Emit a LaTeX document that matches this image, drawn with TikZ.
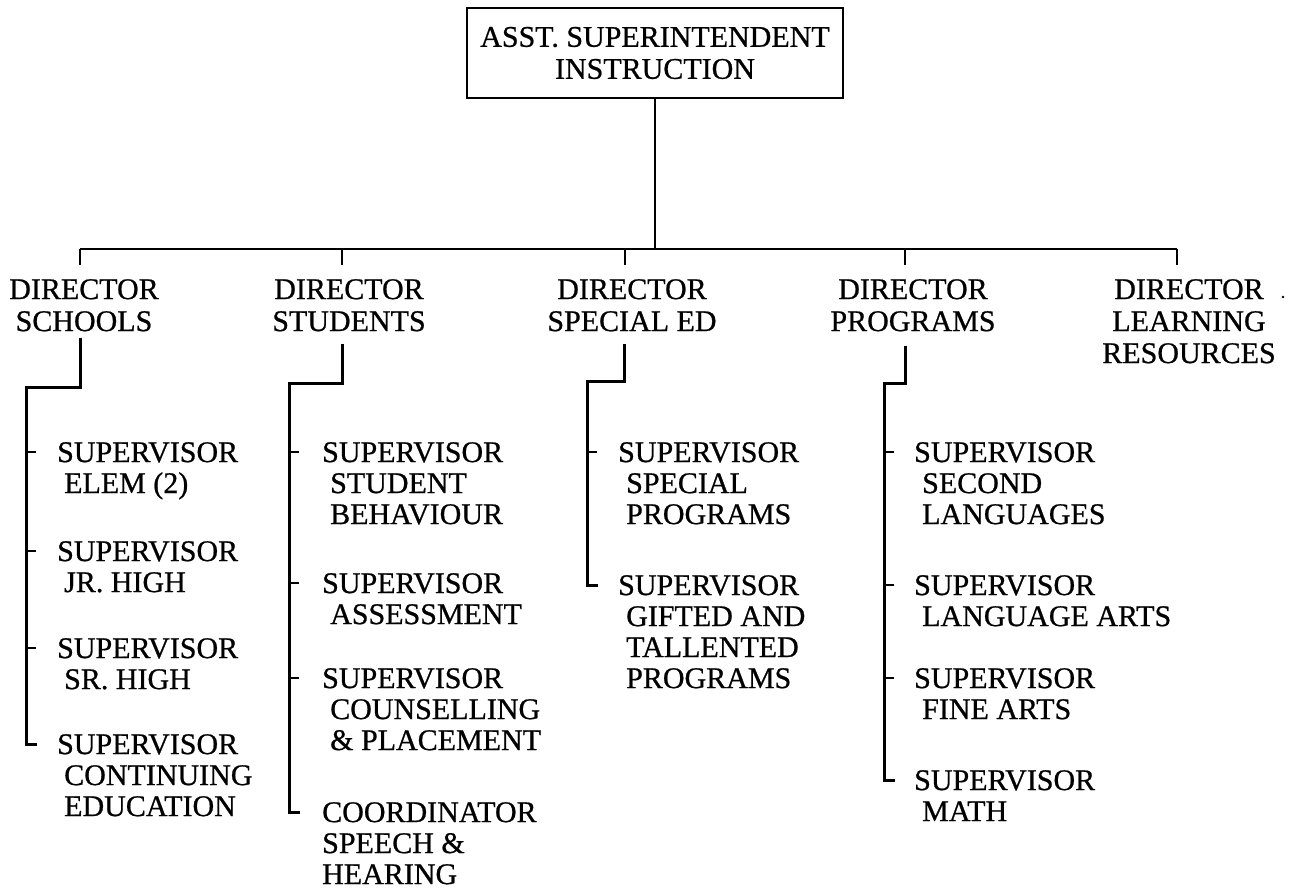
\documentclass[tikz,border=0pt]{standalone}
\usepackage{fontspec}
\setmainfont{Liberation Serif}
\newfontfamily\chartfont[FakeBold=0.7]{Liberation Serif}
\usetikzlibrary{calc}
\begin{document}
\begin{tikzpicture}[x=1pt,y=-1pt,
  lbl/.style={inner sep=0pt},
  dir/.style={lbl, align=center, anchor=north, font=\chartfont\fontsize{30}{32}\selectfont},
  sup/.style={lbl, align=left, anchor=north west, font=\chartfont\fontsize{30}{31}\selectfont},
  topbox/.style={draw, line width=2.6pt, minimum width=376pt, minimum height=90pt,
    align=center, font=\chartfont\fontsize{30}{32}\selectfont, inner sep=0pt},
  conn/.style={line width=1.9pt},
  bar/.style={line width=3pt, line join=miter},
  tick/.style={line width=2.6pt}]
\useasboundingbox (0,0) rectangle (1293,890);

% top box
\node[topbox] (top) at (655,53) {\raisebox{-3pt}{ASST. SUPERINTENDENT}\\\raisebox{-3pt}{INSTRUCTION}};

% directors
\node[dir] (dS)  at (84,279)   {DIRECTOR\\SCHOOLS};
\node[dir] (dSt) at (349,279)  {DIRECTOR\\STUDENTS};
\node[dir] (dSp) at (632,279)  {DIRECTOR\\SPECIAL ED};
\node[dir] (dP)  at (913,279)  {DIRECTOR\\PROGRAMS};
\node[dir] (dL)  at (1189,279) {DIRECTOR\\LEARNING\\RESOURCES};

% top level connectors
\coordinate (hub) at (655,249);
\coordinate (kS)  at (80,249);
\coordinate (kSt) at (342,249);
\coordinate (kSp) at (625,249);
\coordinate (kP)  at (905,249);
\coordinate (kL)  at (1177,249);
\draw[conn] (top.south) -- (hub);
\draw[conn] (kS) -- (kL);
\foreach \k in {kS,kSt,kSp,kP,kL} \draw[conn] (\k) -- ++(0,16);

% supervisors: schools
\node[sup] (s1) at (57,442) {SUPERVISOR\\\hspace*{7pt}ELEM (2)};
\node[sup] (s2) at (57,541) {SUPERVISOR\\\hspace*{7pt}JR. HIGH};
\node[sup] (s3) at (57,638) {SUPERVISOR\\\hspace*{7pt}SR. HIGH};
\node[sup] (s4) at (57,734) {SUPERVISOR\\\hspace*{7pt}CONTINUING\\\hspace*{7pt}EDUCATION};

% supervisors: students
\node[sup] (t1) at (322,442) {SUPERVISOR\\\hspace*{8pt}STUDENT\\\hspace*{8pt}BEHAVIOUR};
\node[sup] (t2) at (322,573) {SUPERVISOR\\\hspace*{8pt}ASSESSMENT};
\node[sup] (t3) at (322,668) {SUPERVISOR\\\hspace*{8pt}COUNSELLING\\\hspace*{8pt}\& PLACEMENT};
\node[sup] (t4) at (322,802) {COORDINATOR\\SPEECH \&\\HEARING};

% supervisors: special ed
\node[sup] (p1) at (618,442) {SUPERVISOR\\\hspace*{8pt}SPECIAL\\\hspace*{8pt}PROGRAMS};
\node[sup] (p2) at (618,575) {SUPERVISOR\\\hspace*{8pt}GIFTED AND\\\hspace*{8pt}TALLENTED\\\hspace*{8pt}PROGRAMS};

% supervisors: programs
\node[sup] (g1) at (914,442) {SUPERVISOR\\\hspace*{8pt}SECOND\\\hspace*{8pt}LANGUAGES};
\node[sup] (g2) at (914,575) {SUPERVISOR\\\hspace*{8pt}LANGUAGE ARTS};
\node[sup] (g3) at (914,668) {SUPERVISOR\\\hspace*{8pt}FINE ARTS};
\node[sup] (g4) at (914,770) {SUPERVISOR\\\hspace*{8pt}MATH};

% brackets
\coordinate (hS)  at (80,388);  \coordinate (bS)  at (26,388);
\coordinate (hSt) at (342,384); \coordinate (bSt) at (289,384);
\coordinate (hSp) at (624,382); \coordinate (bSp) at (587,382);
\coordinate (hP)  at (905,384); \coordinate (bP)  at (884,384);

\draw[bar] ([yshift=-6pt]dS.south -| hS) -- (hS) -- (bS) -- ([yshift=-10pt]s4.north west -| bS) -- ++(11,0);
\foreach \n in {s1,s2,s3} \draw[tick] ([yshift=-10pt]\n.north west -| bS) -- ++(10,0);

\draw[bar] ([yshift=-12pt]dSt.south -| hSt) -- (hSt) -- (bSt) -- ([yshift=-10pt]t4.north west -| bSt) -- ++(11,0);
\foreach \n in {t1,t2,t3} \draw[tick] ([yshift=-10pt]\n.north west -| bSt) -- ++(10,0);

\draw[bar] ([yshift=-12pt]dSp.south -| hSp) -- (hSp) -- (bSp) -- ([yshift=-10pt]p2.north west -| bSp) -- ++(11,0);
\draw[tick] ([yshift=-10pt]p1.north west -| bSp) -- ++(10,0);

\draw[bar] ([yshift=-14pt]dP.south -| hP) -- (hP) -- (bP) -- ([yshift=-10pt]g4.north west -| bP) -- ++(11,0);
\foreach \n in {g1,g2,g3} \draw[tick] ([yshift=-10pt]\n.north west -| bP) -- ++(10,0);

% stray speck
\fill (1283,297) circle (1.3pt);
\end{tikzpicture}
\end{document}
